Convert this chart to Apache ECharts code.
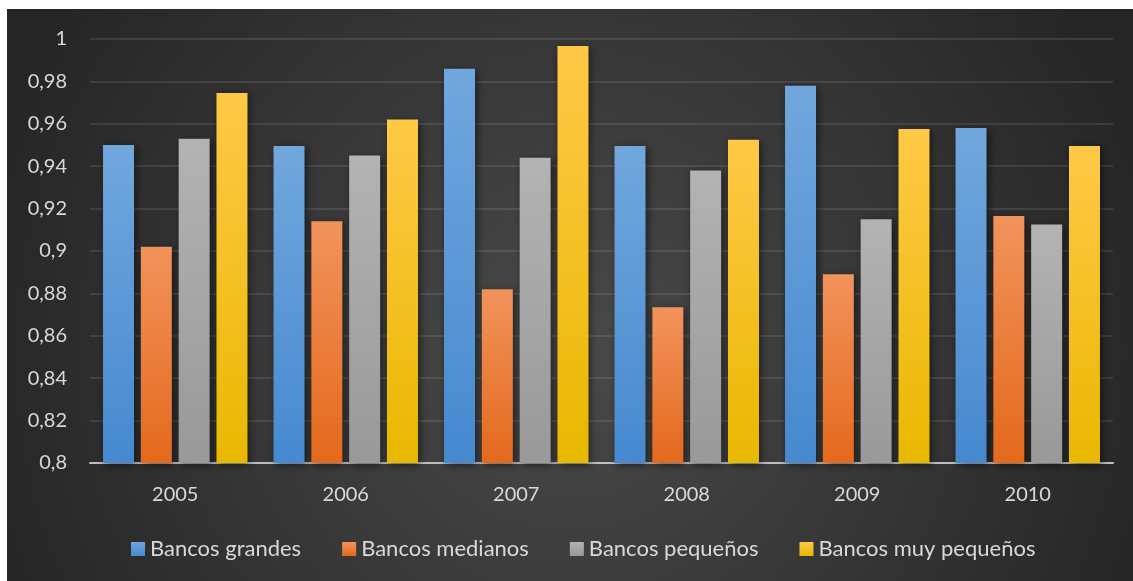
<!DOCTYPE html>
<html>
<head>
<meta charset="utf-8">
<script src="https://cdn.jsdelivr.net/npm/echarts@6/dist/echarts.min.js"></script>
<style>
  html, body { margin: 0; padding: 0; background: #fff; }
  #chart { position: absolute; left: 7px; top: 9px; width: 1126px; height: 572px; }
</style>
</head>
<body>
<div id="chart"></div>
<script>
var years = ['2005', '2006', '2007', '2008', '2009', '2010'];
var seriesNames = ['Bancos grandes', 'Bancos medianos', 'Bancos pequeños', 'Bancos muy pequeños'];
var grandes = [0.950, 0.9495, 0.986, 0.9495, 0.978, 0.958];
var medianos = [0.902, 0.914, 0.882, 0.8735, 0.889, 0.9165];
var pequenos = [0.953, 0.945, 0.944, 0.938, 0.915, 0.9125];
var muyPequenos = [0.9745, 0.962, 0.9967, 0.9525, 0.9575, 0.9495];

var colorsTop = ['#71a7dd', '#f2935c', '#b3b3b3', '#ffc947'];
var colorsBottom = ['#4689cf', '#e4691c', '#999999', '#e9b800'];

function grad(i) {
    return new echarts.graphic.LinearGradient(0, 0, 0, 1, [
        {offset: 0, color: colorsTop[i]},
        {offset: 1, color: colorsBottom[i]}
    ]);
}

var myChart = echarts.init(document.getElementById('chart'));
var font = 'Lato, "Open Sans", sans-serif';

var allData = [grandes, medianos, pequenos, muyPequenos];
var series = allData.map(function (d, i) {
    return {
        name: seriesNames[i],
        type: 'bar',
        data: d,
        barWidth: 31,
        barGap: '22%',
        itemStyle: {
            color: grad(i),
            shadowColor: 'rgba(0,0,0,0.55)',
            shadowBlur: 8,
            shadowOffsetX: 2,
            shadowOffsetY: 2
        }
    };
});

var option = {
    backgroundColor: {
        type: 'radial', x: 0.5, y: 0.6, r: 1.05,
        colorStops: [
            {offset: 0, color: '#4a4a4a'},
            {offset: 1, color: '#262626'}
        ]
    },
    animation: false,
    grid: { left: 83, right: 20, top: 30, bottom: 118 },
    legend: {
        data: seriesNames,
        bottom: 16,
        left: 119,
        itemWidth: 14,
        itemHeight: 14,
        itemGap: 41,
        icon: 'rect',
        textStyle: { color: '#d9d9d9', fontSize: 22, fontFamily: font }
    },
    xAxis: {
        type: 'category',
        data: years,
        axisLine: { lineStyle: { color: '#bfbfbf', width: 2 } },
        axisTick: { show: false },
        axisLabel: { color: '#d9d9d9', fontSize: 20, fontFamily: font, margin: 22 }
    },
    yAxis: {
        type: 'value',
        min: 0.8,
        max: 1,
        interval: 0.02,
        axisLine: { show: false },
        axisTick: { show: false },
        splitLine: { lineStyle: { color: 'rgba(255,255,255,0.1)', width: 2 } },
        axisLabel: {
            color: '#d9d9d9', fontSize: 20, fontFamily: font, margin: 23,
            formatter: function (v) {
                return String(Math.round(v * 100) / 100).replace('.', ',');
            }
        }
    },
    series: series
};

myChart.setOption(option);
</script>
</body>
</html>
